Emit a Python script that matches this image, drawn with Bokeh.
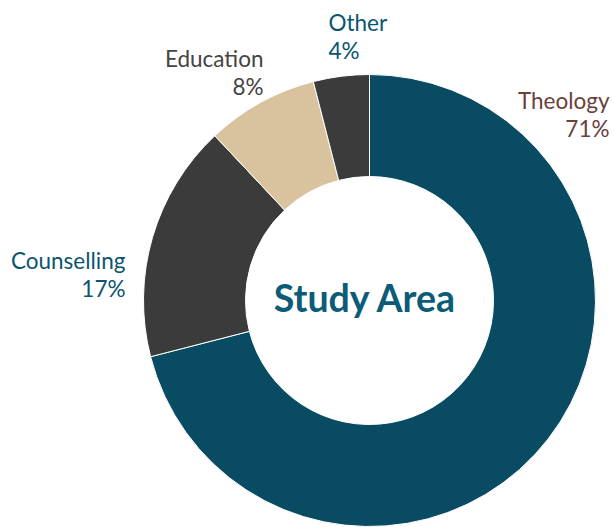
from bokeh.plotting import figure
from bokeh.models import ColumnDataSource
from bokeh.core.properties import value
from bokeh.embed import file_html
from bokeh.resources import INLINE
import math

# Data
categories = ["Theology", "Counselling", "Education", "Other"]
shares = [71, 17, 8, 4]
colors = ["#094B63", "#3B3B3B", "#D9C39F", "#3B3B3B"]
label_colors = ["#6B3F3C", "#0B5570", "#444444", "#0B5570"]

W, H = 614, 527
def px(x):
    return x
def py(y):
    return H - y

cx, cy = px(369), py(300)
r_out, r_in = 226, 124

total = sum(shares)
starts, ends = [], []
cum = 0.0
for s in shares:
    a0 = math.pi / 2 - (cum + s) / total * 2 * math.pi
    a1 = math.pi / 2 - cum / total * 2 * math.pi
    starts.append(a0)
    ends.append(a1)
    cum += s

src = ColumnDataSource(dict(cat=categories, start=starts, end=ends, color=colors))

p = figure(width=W, height=H, x_range=(0, W), y_range=(0, H),
           output_backend="svg", toolbar_location=None, min_border=0)
p.axis.visible = False
p.grid.visible = False
p.outline_line_color = None
p.background_fill_color = "white"

p.annular_wedge(x=cx, y=cy, inner_radius=r_in, outer_radius=r_out,
                start_angle="start", end_angle="end", fill_color="color",
                line_color="white", line_width=1, source=src)

# label placement (style)
label_pos = {
    "Theology": (609, 100, "right"),
    "Counselling": (125, 260, "right"),
    "Education": (263, 58, "right"),
    "Other": (328, 22, "left"),
}
for cat, s, col in zip(categories, shares, label_colors):
    x, y, al = label_pos[cat]
    p.text(x=[px(x), px(x)], y=[py(y), py(y + 28)], text=[cat, f"{s}%"],
           text_font=value("Lato"), text_font_size="22.5px", text_color=col,
           text_align=al, text_baseline="middle")

p.text(x=[px(365)], y=[py(297)], text=["Study Area"], text_font=value("Lato"),
       text_font_size="37.5px", text_font_style="bold", text_color="#0B5C77",
       text_align="center", text_baseline="middle")

open("out.html", "w").write(file_html(p, INLINE))
